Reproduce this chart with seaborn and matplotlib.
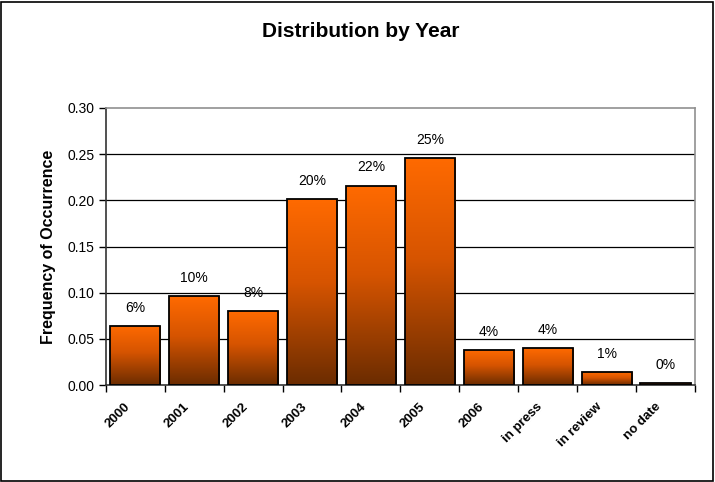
import numpy as np
import matplotlib
matplotlib.use("Agg")
import matplotlib.pyplot as plt
from matplotlib.colors import LinearSegmentedColormap
from matplotlib.patches import Rectangle
import seaborn as sns

categories = ["2000", "2001", "2002", "2003", "2004", "2005",
              "2006", "in press", "in review", "no date"]
values = [0.064, 0.096, 0.080, 0.201, 0.216, 0.246, 0.038, 0.040, 0.014, 0.002]
bar_labels = ["6%", "10%", "8%", "20%", "22%", "25%", "4%", "4%", "1%", "0%"]
y_ticks = [0.00, 0.05, 0.10, 0.15, 0.20, 0.25, 0.30]

sns.set_style("white")
plt.rcParams['font.family'] = ['Liberation Sans', 'DejaVu Sans']

fig = plt.figure(figsize=(7.15, 4.82), dpi=100)
ax = fig.add_axes([0.148, 0.201, 0.824, 0.575])

sns.barplot(x=categories, y=values, ax=ax, width=0.85, color="#FF6600",
            edgecolor="black", linewidth=1.3, zorder=3)

# vertical gradient, bright orange at the top to brown at the bottom
cmap = LinearSegmentedColormap.from_list(
    "orange_brown", [(0.0, "#6B2C00"), (0.55, "#D65400"), (1.0, "#FF6A00")])
grad = np.linspace(0, 1, 256).reshape(-1, 1)
for patch in ax.patches:
    x0, y0 = patch.get_x(), patch.get_y()
    w, h = patch.get_width(), patch.get_height()
    img = ax.imshow(grad, cmap=cmap, origin="lower", aspect="auto",
                    extent=[x0, x0 + w, y0, y0 + h], zorder=2.5)
    img.set_clip_path(patch)
    patch.set_facecolor("none")

for i, (v, lab) in enumerate(zip(values, bar_labels)):
    ax.annotate(lab, (i, v), xytext=(0, 8), textcoords="offset points",
                ha="center", va="bottom", fontsize=10, color="black")

ax.set_xlim(-0.5, len(categories) - 0.5)
ax.set_ylim(0, 0.30)
ax.set_yticks(y_ticks)
ax.set_yticklabels([f"{t:.2f}" for t in y_ticks], fontsize=10, color="black")
for t in y_ticks[1:-1]:
    ax.axhline(t, color="black", linewidth=0.9, zorder=1)

# slanted category labels, set a little left of each category centre
ax.set_xticks(range(len(categories)))
ax.set_xticklabels([])
for i, cat in enumerate(categories):
    ax.annotate(cat, (i, 0), xycoords=ax.get_xaxis_transform(),
                xytext=(-8, -11), textcoords="offset points",
                rotation=45, ha="right", va="top", rotation_mode="anchor",
                fontsize=9.5, fontweight="bold", color="black",
                annotation_clip=False)
ax.set_xticks(np.arange(-0.5, len(categories), 1), minor=True)
ax.tick_params(axis="x", which="major", length=0)
ax.tick_params(axis="x", which="minor", length=5, width=1, color="black", bottom=True)
ax.tick_params(axis="y", length=5, width=1, color="black", left=True, pad=3)

ax.set_ylabel("Frequency of Occurrence", fontsize=11.5, fontweight="bold",
              labelpad=8, color="black")
ax.set_xlabel("")

for side in ["left", "bottom"]:
    ax.spines[side].set_color("#333333")
    ax.spines[side].set_linewidth(1.2)
for side in ["top", "right"]:
    ax.spines[side].set_color("#909090")
    ax.spines[side].set_linewidth(1.2)

fig.text(0.505, 0.935, "Distribution by Year", ha="center", va="center",
         fontsize=15, fontweight="bold", color="black")

fig.patches.append(Rectangle((0.002, 0.003), 0.995, 0.993, transform=fig.transFigure,
                             fill=False, edgecolor="black", linewidth=1.2))

fig.savefig("out.png", dpi=100)
